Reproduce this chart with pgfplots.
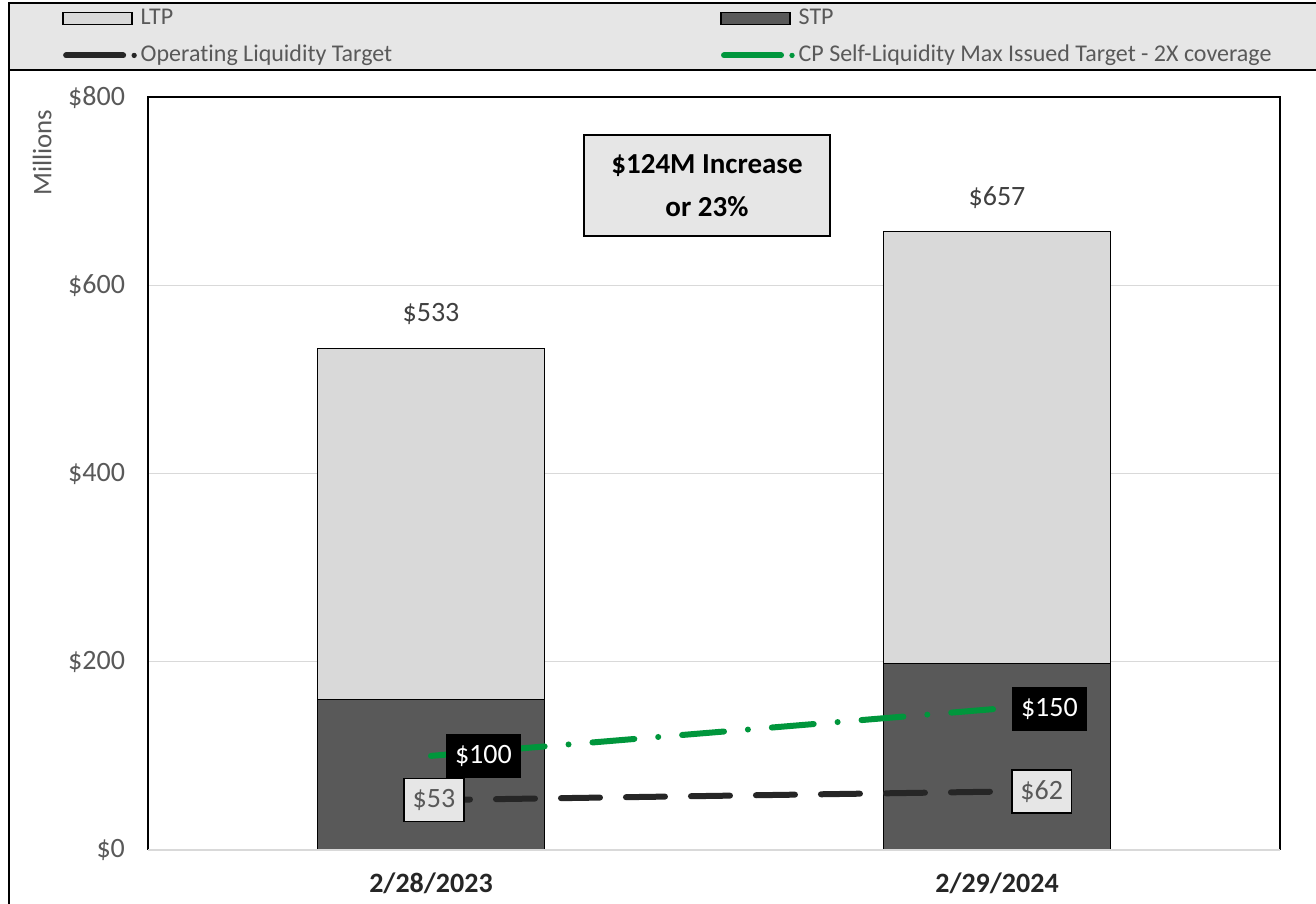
\documentclass[border=0pt]{standalone}
\usepackage{pgfplots}
\pgfplotsset{compat=1.18}
\usepackage{fontspec}
\setmainfont{Carlito}[Ligatures={NoCommon}]
\definecolor{ltpcol}{HTML}{D9D9D9}
\definecolor{stpcol}{HTML}{595959}
\definecolor{opcol}{HTML}{262626}
\definecolor{cpcol}{HTML}{00963C}
\definecolor{txtgray}{HTML}{595959}
\definecolor{lblgray}{HTML}{404040}
\definecolor{legbg}{HTML}{E6E6E6}
\definecolor{gridcol}{HTML}{D9D9D9}
\pgfplotsset{/pgf/number format/assume math mode=true}
% data
\pgfplotstableread{
x total stp
0 533 160
1 657 198
}\bardata
\pgfplotstableread{
x op cp
0 53 100
1 62 150
}\linedata
\begin{document}
\begin{tikzpicture}
\useasboundingbox (0pt,0pt) rectangle (658pt,452pt);
\fill[white] (0pt,0pt) rectangle (658pt,452pt);
\draw[line width=1pt, black] (4.5pt,0pt) -- (4.5pt,417pt);
\filldraw[fill=legbg, draw=black, line width=1pt] (4.5pt,417pt) rectangle (664pt,450.5pt);
\begin{axis}[
  at={(74pt,27pt)}, anchor=south west,
  scale only axis, width=566pt, height=376.5pt,
  xmin=-0.5, xmax=1.5, ymin=0, ymax=800,
  enlargelimits=false,
  ybar, bar width=113.5pt, bar shift=0pt,
  axis line style={draw=none},
  major tick length=0pt,
  xtick={0,1}, xticklabels={2/28/2023, 2/29/2024},
  xticklabel style={font=\fontsize{14}{16}\selectfont\bfseries, text=black!85, yshift=-8pt},
  ytick={0,200,400,600,800},
  yticklabel={\$\pgfmathprintnumber{\tick}},
  yticklabel style={font=\fontsize{14}{16}\selectfont, text=txtgray, xshift=-8pt},
  ymajorgrids, grid style={gridcol, line width=0.6pt},
  ylabel={Millions},
  every axis y label/.style={at={(axis description cs:-0.0936,0.926)}, rotate=90, anchor=center, font=\fontsize{13.4}{15}\selectfont, text=txtgray},
  legend columns=2,
  legend cell align=left,
  legend style={at={(axis description cs:-0.07597,1.1182)}, anchor=north west,
    draw=none, fill=none, inner sep=0pt, font=\fontsize{12}{14}\selectfont, text=txtgray,
    /tikz/every odd column/.append style={column sep=2pt},
    /tikz/every even column/.append style={column sep=164pt},
    /tikz/row sep=8.5pt,
    nodes={inner sep=0pt, text height=8pt, text depth=2pt}},
  after end axis/.code={
    \draw[black, line width=0.75pt] (rel axis cs:0,0) -- (rel axis cs:0,1) -- (rel axis cs:1,1) -- (rel axis cs:1,0);
    \draw[gridcol, line width=1pt] (rel axis cs:0,0) -- (rel axis cs:1,0);
  },
]
\addlegendimage{legend image code/.code={\draw[fill=ltpcol, draw=black, line width=0.75pt] (0pt,-3pt) rectangle (34.5pt,3pt);}}
\addlegendentry{LTP}
\addlegendimage{legend image code/.code={\draw[fill=stpcol, draw=black, line width=0.75pt] (0pt,-3pt) rectangle (34.5pt,3pt);}}
\addlegendentry{STP}
\addlegendimage{legend image code/.code={\draw[opcol, line width=3pt, line cap=round] (1.5pt,0pt) -- (30pt,0pt); \fill[opcol] (35.5pt,0pt) circle (1.1pt);}}
\addlegendentry{Operating Liquidity Target}
\addlegendimage{legend image code/.code={\draw[cpcol, line width=3pt, line cap=round] (1.5pt,0pt) -- (30pt,0pt); \fill[cpcol] (35.5pt,0pt) circle (1.1pt);}}
\addlegendentry{CP Self-Liquidity Max Issued Target - 2X coverage}

% total bar (LTP on top of STP), labelled with the total
\addplot[forget plot, fill=ltpcol, draw=black, line width=0.75pt,
  nodes near coords={\$\pgfmathprintnumber{\pgfplotspointmeta}},
  every node near coord/.append style={anchor=center, yshift=17pt, font=\fontsize{14}{16}\selectfont, text=lblgray}]
  table[x=x, y=total] {\bardata};
% STP
\addplot[forget plot, fill=stpcol, draw=black, line width=0.75pt]
  table[x=x, y=stp] {\bardata};

% Operating Liquidity Target
\addplot[forget plot, sharp plot, opcol, line width=3pt, line cap=round,
  dash pattern=on 19.5pt off 13pt]
  table[x=x, y=op] {\linedata};
% CP Self-Liquidity
\addplot[forget plot, sharp plot, cpcol, line width=3pt, line cap=round,
  dash pattern=on 21pt off 12pt on 0pt off 12pt, dash phase=9pt]
  table[x=x, y=cp] {\linedata};

% labels
\addplot[forget plot, only marks, mark=none, point meta=y,
  nodes near coords={\$\pgfmathprintnumber{\pgfplotspointmeta}},
  every node near coord/.append style={anchor=center, xshift=1.5pt, fill=legbg, draw=black, line width=0.75pt,
    inner xsep=4.3pt, inner ysep=0pt, minimum height=21.5pt, font=\fontsize{14}{16}\selectfont, text=txtgray}]
  coordinates {(0,53)};
\addplot[forget plot, only marks, mark=none, point meta=y,
  nodes near coords={\$\pgfmathprintnumber{\pgfplotspointmeta}},
  every node near coord/.append style={anchor=west, xshift=7pt, fill=legbg, draw=black, line width=0.75pt,
    inner xsep=4.3pt, inner ysep=0pt, minimum height=21.5pt, font=\fontsize{14}{16}\selectfont, text=txtgray}]
  coordinates {(1,62)};
\addplot[forget plot, only marks, mark=none, point meta=y,
  nodes near coords={\$\pgfmathprintnumber{\pgfplotspointmeta}},
  every node near coord/.append style={anchor=west, xshift=7.5pt, fill=black, draw=black,
    inner xsep=4.3pt, inner ysep=0pt, minimum height=21.5pt, font=\fontsize{14}{16}\selectfont, text=white}]
  table[x=x, y=cp] {\linedata};

\node[fill=legbg, draw=black, line width=0.75pt, minimum width=123pt, minimum height=50.5pt, align=center,
  font=\fontsize{14.5}{21.5}\selectfont\bfseries, text=black]
  at (axis description cs:0.4938,0.8825) {\$124M Increase\\or 23\%};
\end{axis}
\end{tikzpicture}
\end{document}
